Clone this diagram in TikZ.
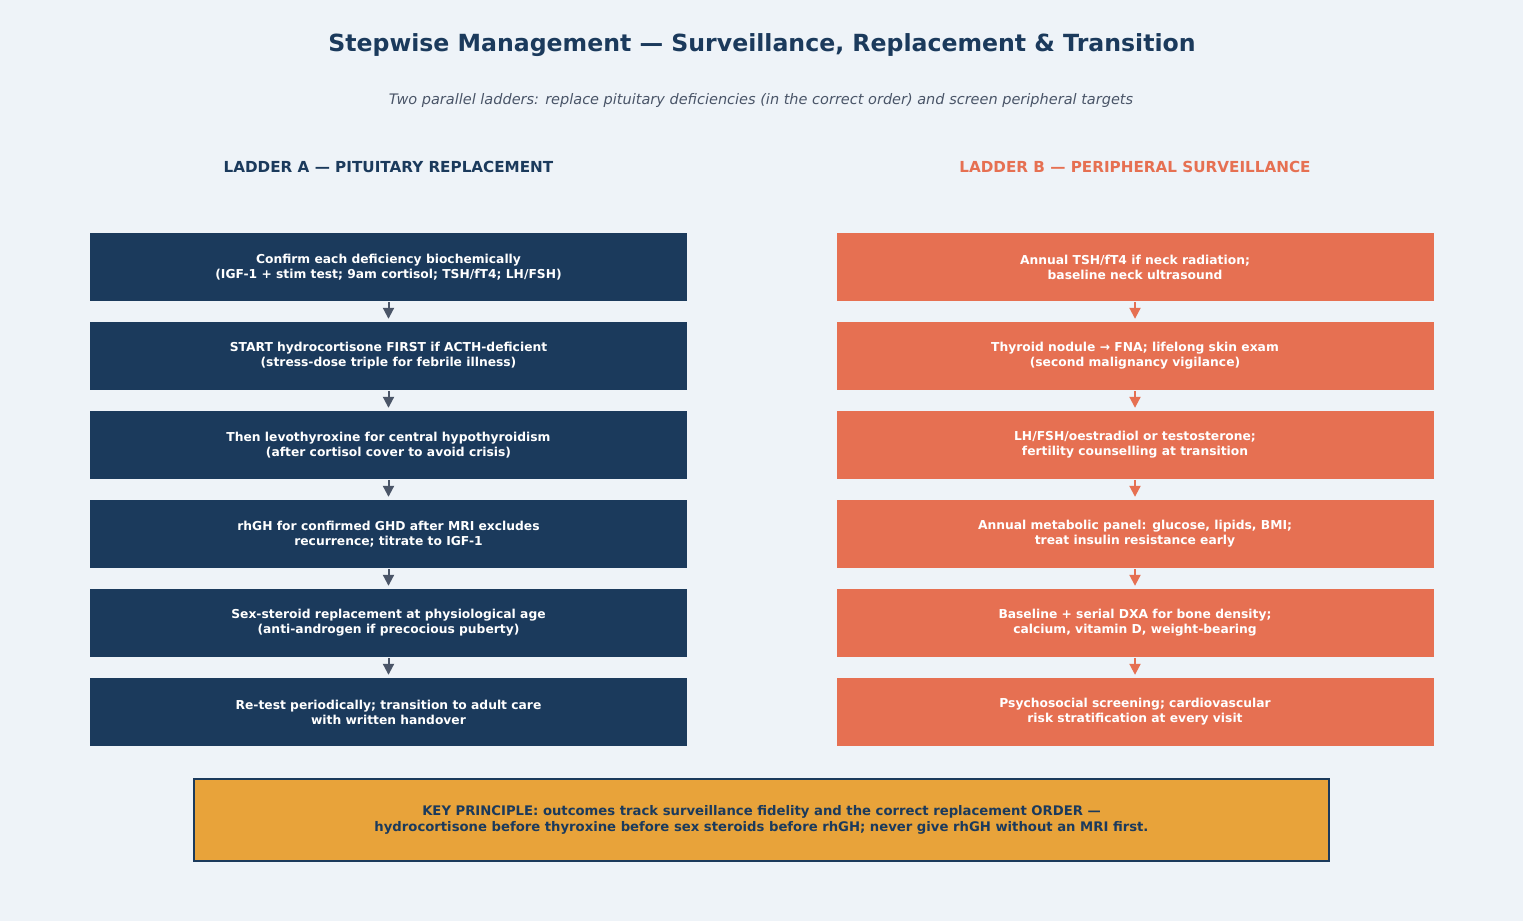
\documentclass[tikz,border=0pt]{standalone}
\usepackage{fontspec}
\setmainfont{DejaVu Sans}
\usetikzlibrary{arrows.meta}
\definecolor{bg}{HTML}{EEF3F8}
\definecolor{navy}{HTML}{1B3A5C}
\definecolor{coral}{HTML}{E67052}
\definecolor{amber}{HTML}{E8A33A}
\definecolor{slate}{HTML}{4A5568}
\definecolor{subgray}{HTML}{4A5568}
\tikzset{
  boxA/.style={rectangle, fill=navy, text=white, minimum width=597pt, minimum height=68pt, align=center, inner sep=0pt, font=\bfseries\fontsize{12.3}{15}\selectfont},
  boxB/.style={boxA, fill=coral},
  arrA/.style={-{Triangle[length=11pt,width=11pt]}, line width=2pt, draw=slate, shorten <=1pt, shorten >=3pt},
  arrB/.style={arrA, draw=coral},
}
\begin{document}
\begin{tikzpicture}[x=1pt,y=-1pt]
\fill[bg] (0,0) rectangle (1523,921);
\useasboundingbox (0,0) rectangle (1523,921);
\node[text=navy, font=\bfseries\fontsize{23.6}{28}\selectfont] (title) at (762,45.5) {Stepwise Management — Surveillance, Replacement \& Transition};
\node[text=subgray, font=\itshape\fontsize{14.5}{17}\selectfont] (sub) at (761,100) {Two parallel ladders: replace pituitary deficiencies (in the correct order) and screen peripheral targets};
\node[text=navy, font=\bfseries\fontsize{15.2}{18}\selectfont] (ha) at (388.5,166.5) {LADDER A — PITUITARY REPLACEMENT};
\node[text=coral, font=\bfseries\fontsize{15.2}{18}\selectfont] (hb) at (1135,166.5) {LADDER B — PERIPHERAL SURVEILLANCE};

\node[boxA] (a1) at (388.5,267) {Confirm each deficiency biochemically\\(IGF-1 + stim test; 9am cortisol; TSH/fT4; LH/FSH)};
\node[boxA] (a2) at (388.5,356) {START hydrocortisone FIRST if ACTH-deficient\\(stress-dose triple for febrile illness)};
\node[boxA] (a3) at (388.5,445) {Then levothyroxine for central hypothyroidism\\(after cortisol cover to avoid crisis)};
\node[boxA] (a4) at (388.5,534) {rhGH for confirmed GHD after MRI excludes\\recurrence; titrate to IGF-1};
\node[boxA] (a5) at (388.5,623) {Sex-steroid replacement at physiological age\\(anti-androgen if precocious puberty)};
\node[boxA] (a6) at (388.5,712) {Re-test periodically; transition to adult care\\with written handover};

\node[boxB] (b1) at (1135,267) {Annual TSH/fT4 if neck radiation;\\baseline neck ultrasound};
\node[boxB] (b2) at (1135,356) {Thyroid nodule → FNA; lifelong skin exam\\(second malignancy vigilance)};
\node[boxB] (b3) at (1135,445) {LH/FSH/oestradiol or testosterone;\\fertility counselling at transition};
\node[boxB] (b4) at (1135,534) {Annual metabolic panel: glucose, lipids, BMI;\\treat insulin resistance early};
\node[boxB] (b5) at (1135,623) {Baseline + serial DXA for bone density;\\calcium, vitamin D, weight-bearing};
\node[boxB] (b6) at (1135,712) {Psychosocial screening; cardiovascular\\risk stratification at every visit};

\foreach \i/\j in {1/2,2/3,3/4,4/5,5/6}{
  \draw[arrA] (a\i.south) -- (a\j.north);
  \draw[arrB] (b\i.south) -- (b\j.north);
}

\node[rectangle, fill=amber, draw=navy, line width=1.5pt, minimum width=1135pt, minimum height=82pt, align=center, text=navy, font=\bfseries\fontsize{13.2}{16}\selectfont] (key) at (761.5,820) {KEY PRINCIPLE: outcomes track surveillance fidelity and the correct replacement ORDER —\\hydrocortisone before thyroxine before sex steroids before rhGH; never give rhGH without an MRI first.};
\end{tikzpicture}
\end{document}
